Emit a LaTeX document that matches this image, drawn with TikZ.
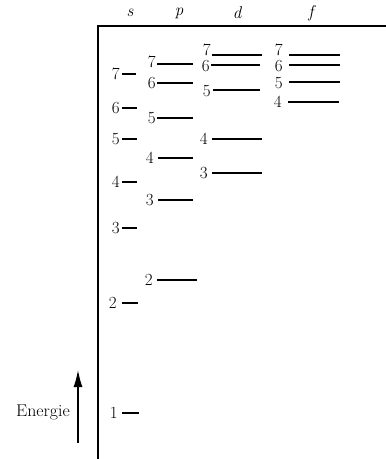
\documentclass[tikz,border=0pt]{standalone}
\usepackage{fontspec}
\usetikzlibrary{arrows.meta}
\tikzset{
  lbl/.style={anchor=east, inner sep=0pt, font=\fontsize{17}{20}\selectfont},
  hdr/.style={inner sep=0pt, font=\fontsize{17}{20}\selectfont\itshape},
  lev/.style={line width=1.5pt},
  frame/.style={line width=1.4pt},
}
% name, label x, label y, line x1, line x2, line y, text
\newcommand{\lvl}[7]{%
  \node[lbl] (#1) at (#2,#3) {#7};
  \draw[lev] (#4,#6) -- (#5,#6);
}
\begin{document}
\begin{tikzpicture}[x=1pt,y=-1pt]
\useasboundingbox (0,0) rectangle (386,459);
% frame
\coordinate (tl) at (98,26);
\coordinate (tr) at (386,26);
\coordinate (bl) at (98,459);
\draw[frame] (tr) -- (tl) -- (bl);
% headers
\node[hdr] (hs) at (130,13) {s};
\node[hdr] (hp) at (179,13) {p};
\node[hdr] (hd) at (237,13) {d};
\node[hdr] (hf) at (311,13) {f};
% s levels
\lvl{s7}{120}{74}{122}{136}{74}{7}
\lvl{s6}{120}{108}{122}{137}{108}{6}
\lvl{s5}{120}{139}{122}{137}{139}{5}
\lvl{s4}{120}{182}{122}{137}{182}{4}
\lvl{s3}{120}{228}{122}{137}{228}{3}
\lvl{s2}{117}{303}{122}{138}{303}{2}
\lvl{s1}{118}{413}{122}{139}{413}{1}
% p levels
\lvl{p7}{156}{62}{157}{193}{64}{7}
\lvl{p6}{156}{83}{157}{193}{83}{6}
\lvl{p5}{156}{118}{157}{193}{118}{5}
\lvl{p4}{154}{158}{158}{193}{158}{4}
\lvl{p3}{154}{200}{158}{193}{200}{3}
\lvl{p2}{153}{280}{157}{197}{280}{2}
% d levels
\lvl{d7}{211}{50}{212}{262}{55}{7}
\lvl{d6}{210}{66}{211}{260}{65}{6}
\lvl{d5}{211}{91}{213}{260}{90}{5}
\lvl{d4}{208}{139}{212}{262}{139}{4}
\lvl{d3}{208}{173}{212}{262}{173}{3}
% f levels
\lvl{f7}{283}{50}{289}{340}{55}{7}
\lvl{f6}{283}{66}{289}{340}{65}{6}
\lvl{f5}{283}{83}{289}{340}{82}{5}
\lvl{f4}{282}{102}{288}{339}{102}{4}
% energy arrow
\node[inner sep=0pt, font=\fontsize{17}{20}\selectfont, xscale=1.05, transform shape] (en) at (43,412) {Energie};
\coordinate (ea) at (78,443);
\coordinate (eb) at (78,370);
\draw[line width=1.4pt, -{Latex[length=17pt,width=9pt]}] (ea) -- (eb);
\end{tikzpicture}
\end{document}
